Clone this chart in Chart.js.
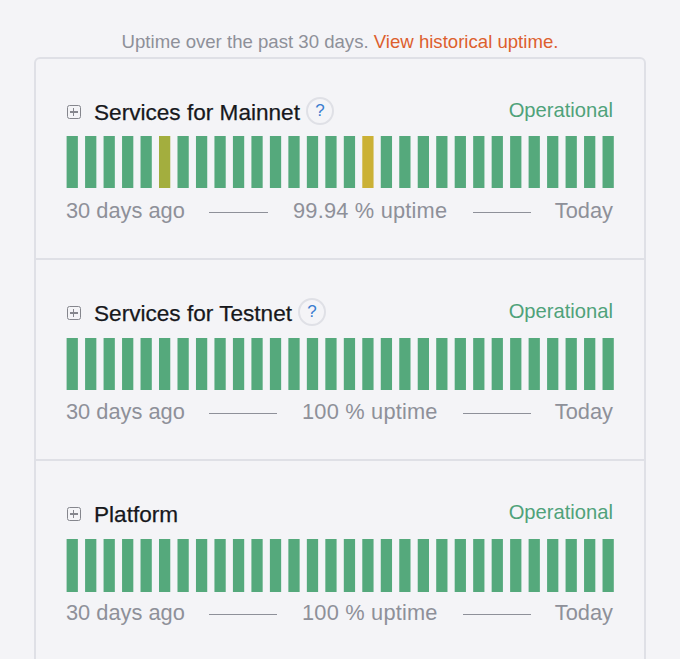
<!DOCTYPE html>
<html>
<head>
<meta charset="utf-8">
<script src="https://cdn.jsdelivr.net/npm/chart.js@4"></script>
<style>
html, body { margin: 0; padding: 0; background: #f4f4f7; }
#page { position: relative; width: 680px; height: 659px; overflow: hidden; font-family: "Liberation Sans", sans-serif; }
#page div, #page span { position: absolute; white-space: nowrap; }
#intro { left: 0; width: 680px; top: 30px; line-height: 24px; text-align: center; font-size: 18.6px; color: #8e9099; }
#intro span { position: static; color: #dd5f2e; }
#card { left: 34px; top: 57px; width: 608px; height: 640px; border: 2px solid #dfe0e6; border-radius: 6px; box-sizing: content-box; }
.divider { left: 35px; width: 610px; height: 2px; background: #dfe0e6; }
.name { font-size: 22.6px; color: #17181c; line-height: 26px; -webkit-text-stroke: 0.25px #17181c; }
.status { right: 67px; font-size: 20.2px; color: #4fa27a; line-height: 24px; }
.foot { font-size: 21.8px; color: #8e9099; line-height: 26px; }
.rule { height: 1.2px; background: #8e9099; }
.plus { left: 66.5px; width: 12px; height: 12px; border: 1.5px solid #85868d; border-radius: 2.5px; }
.plus::before { content: ""; position: absolute; left: 2px; right: 2px; top: 5.2px; height: 1.5px; background: #85868d; }
.plus::after { content: ""; position: absolute; top: 2px; bottom: 2px; left: 5.2px; width: 1.5px; background: #85868d; }
.help { width: 24px; height: 24px; border: 2px solid #dfe0e6; border-radius: 50%; text-align: center; line-height: 24px; font-size: 17px; color: #3b7dd0; }
</style>
</head>
<body>
<div id="page">
  <div id="intro">Uptime over the past 30 days. <span>View historical uptime.</span></div>
  <div id="card"></div>
  <div class="divider" style="top:258px"></div>
  <div class="divider" style="top:459px"></div>
</div>
<script>
const days = ['30','29','28','27','26','25','24','23','22','21','20','19','18','17','16','15','14','13','12','11','10','9','8','7','6','5','4','3','2','1'];

// full height bar for every day, colour comes from the status
const mainnetStatus = ['ok','ok','ok','ok','ok','minor','ok','ok','ok','ok','ok','ok','ok','ok','ok','ok','warn','ok','ok','ok','ok','ok','ok','ok','ok','ok','ok','ok','ok','ok'];
const testnetStatus = ['ok','ok','ok','ok','ok','ok','ok','ok','ok','ok','ok','ok','ok','ok','ok','ok','ok','ok','ok','ok','ok','ok','ok','ok','ok','ok','ok','ok','ok','ok'];
const platformStatus = ['ok','ok','ok','ok','ok','ok','ok','ok','ok','ok','ok','ok','ok','ok','ok','ok','ok','ok','ok','ok','ok','ok','ok','ok','ok','ok','ok','ok','ok','ok'];

const statusColors = { ok: '#55a97c', minor: '#a3ae3e', warn: '#cbb136' };

const page = document.getElementById('page');

function addEl(cls, text, style) {
    const el = document.createElement('div');
    el.className = cls;
    el.textContent = text;
    el.style.cssText = style;
    page.appendChild(el);
}

function addPanel(name, status, uptime, top, barTop, ruleTop, helpLeft, ruleA, ruleB, uptimeLeft) {
    addEl('plus', '', 'top:' + (top + 45) + 'px');
    addEl('name', name, 'left:94px;top:' + (top + 39.5) + 'px');
    if (helpLeft) addEl('help', '?', 'left:' + helpLeft + 'px;top:' + (top + 37) + 'px');
    addEl('status', 'Operational', 'top:' + (top + 38) + 'px');
    addEl('foot', '30 days ago', 'left:66px;top:' + (top + 138) + 'px');
    addEl('foot', uptime, 'left:' + uptimeLeft + 'px;top:' + (top + 138) + 'px;letter-spacing:0.2px');
    addEl('foot', 'Today', 'right:67px;top:' + (top + 138) + 'px');
    addEl('rule', '', 'left:' + ruleA[0] + 'px;width:' + ruleA[1] + 'px;top:' + ruleTop + 'px');
    addEl('rule', '', 'left:' + ruleB[0] + 'px;width:' + ruleB[1] + 'px;top:' + ruleTop + 'px');

    const box = document.createElement('div');
    box.style.cssText = 'left:62.7px;width:554.4px;height:52.5px;top:' + barTop + 'px';
    const canvas = document.createElement('canvas');
    box.appendChild(canvas);
    page.appendChild(box);

    new Chart(canvas, {
        type: 'bar',
        data: {
            labels: days,
            datasets: [{
                data: status.map(() => 1),
                backgroundColor: status.map((s) => statusColors[s]),
                borderWidth: 0,
                barPercentage: 0.61,
                categoryPercentage: 1
            }]
        },
        options: {
            responsive: true,
            maintainAspectRatio: false,
            animation: false,
            plugins: { legend: { display: false }, tooltip: { enabled: false } },
            layout: { padding: 0 },
            scales: {
                x: { display: false },
                y: { display: false, min: 0, max: 1 }
            }
        }
    });
}

addPanel('Services for Mainnet', mainnetStatus, '99.94 % uptime', 60, 135.5, 211.5, 306, [209, 59], [473, 58], 293);
addPanel('Services for Testnet', testnetStatus, '100 % uptime', 261, 337.5, 412.5, 298, [209, 68], [463, 68], 302);
addPanel('Platform', platformStatus, '100 % uptime', 462, 539, 613.5, 0, [209, 68], [463, 68], 302);
</script>
</body>
</html>
